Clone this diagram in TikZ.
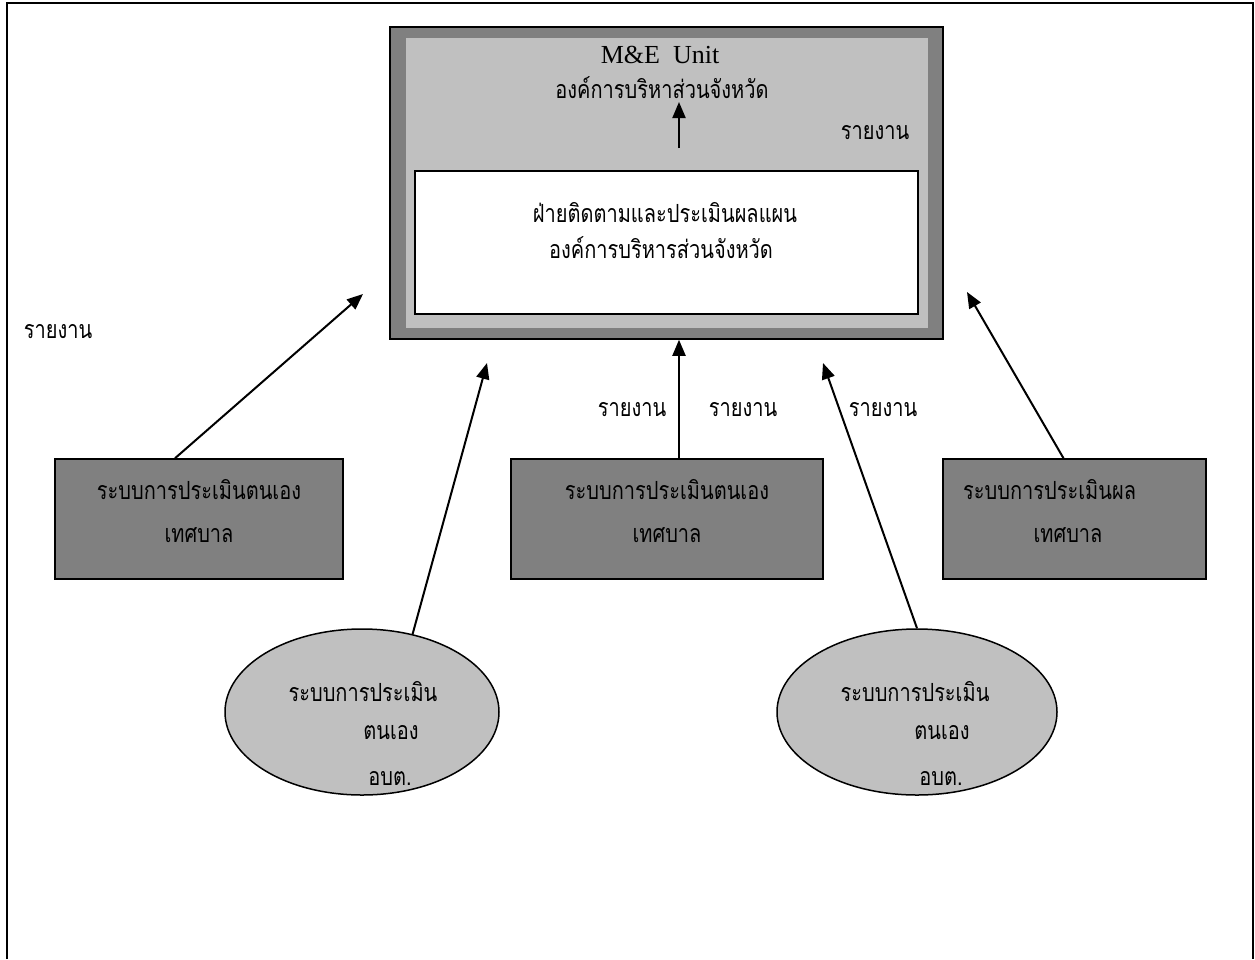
\documentclass[tikz,border=0pt]{standalone}
\usepackage{fontspec}
\setmainfont{Liberation Serif}
\newfontfamily\thai[Script=Thai,FakeStretch=0.8]{Loma}
\usetikzlibrary{arrows.meta,shapes.geometric}
\definecolor{dgray}{HTML}{808080}
\definecolor{lgray}{HTML}{C0C0C0}
\begin{document}
\begin{tikzpicture}[x=1pt,y=-1pt,
  th/.style={font=\thai\fontsize{25}{30}\selectfont, inner sep=0pt, anchor=center},
  conn/.style={line width=2pt,-{Triangle[width=13pt,length=16pt]}},
  graybox/.style={draw=black, line width=1.5pt, fill=dgray, inner sep=0pt},
  grayell/.style={ellipse, draw=black, line width=1.5pt, fill=lgray, inner sep=0pt}]
\useasboundingbox (0,0) rectangle (1255,959);
\draw[line width=1.5pt] (7,959) |- (1253,3) -- (1253,959);
% big box
\node[graybox, minimum width=553pt, minimum height=312pt] (outer) at (666.5,183) {};
\node[fill=lgray, inner sep=0pt, minimum width=522pt, minimum height=290pt] (inner) at (667,183) {};
\node[draw=black, line width=1.5pt, fill=white, inner sep=0pt, minimum width=503pt, minimum height=143pt] (white) at (666.5,242.5) {};
\node[font=\fontsize{26}{30}\selectfont, inner sep=0pt] (me) at (660,55) {M\&E\ \ Unit};
\node[th] (org1) at (662,88) {องค์การบริหาส่วนจังหวัด};
\node[th] (rep0) at (875,133) {รายงาน};
\coordinate (ia) at (679,148);
\coordinate (ib) at (679,102);
\draw[conn] (ia) -- (ib);
\node[th] (w1) at (665,213) {ฝ่ายติดตามและประเมินผลแผน};
\node[th] (w2) at (661,248) {องค์การบริหารส่วนจังหวัด};
% lower boxes
\node[graybox, minimum width=288pt, minimum height=120pt] (b1) at (199,519) {};
\node[th] at (199,490) {ระบบการประเมินตนเอง};
\node[th] at (199,535) {เทศบาล};
\node[graybox, minimum width=312pt, minimum height=120pt] (b2) at (667,519) {};
\node[th] at (667,490) {ระบบการประเมินตนเอง};
\node[th] at (667,535) {เทศบาล};
\node[graybox, minimum width=263pt, minimum height=120pt] (b3) at (1074.5,519) {};
\node[th, anchor=west] at (963,490) {ระบบการประเมินผล};
\node[th] at (1068,535) {เทศบาล};
% ellipses
\node[grayell, minimum width=274pt, minimum height=166pt] (e1) at (362,712) {};
\node[th] at (363,692) {ระบบการประเมิน};
\node[th] at (391,733) {ตนเอง};
\node[th] at (390,778) {อบต.};
\node[grayell, minimum width=280pt, minimum height=166pt] (e2) at (917,712) {};
\node[th] at (915,692) {ระบบการประเมิน};
\node[th] at (942,733) {ตนเอง};
\node[th] at (941,778) {อบต.};
% labels
\node[th] (r1) at (58,332) {รายงาน};
\node[th] (r2) at (632,410) {รายงาน};
\node[th] (r3) at (743,410) {รายงาน};
\node[th] (r4) at (883,410) {รายงาน};
% arrow tips
\coordinate (t1) at (363,294);
\coordinate (t2) at (487,363);
\coordinate (t4) at (823,363);
\coordinate (t5) at (967,292);
\draw[conn] ([xshift=-24pt]b1.north) -- (t1);
\draw[conn] (e1.57) -- (t2);
\draw[conn] ([xshift=12pt]b2.north) -- ([xshift=12pt]b2.north |- outer.south);
\draw[conn] (e2.north) -- (t4);
\draw[conn] ([xshift=-11pt]b3.north) -- (t5);
\end{tikzpicture}
\end{document}
